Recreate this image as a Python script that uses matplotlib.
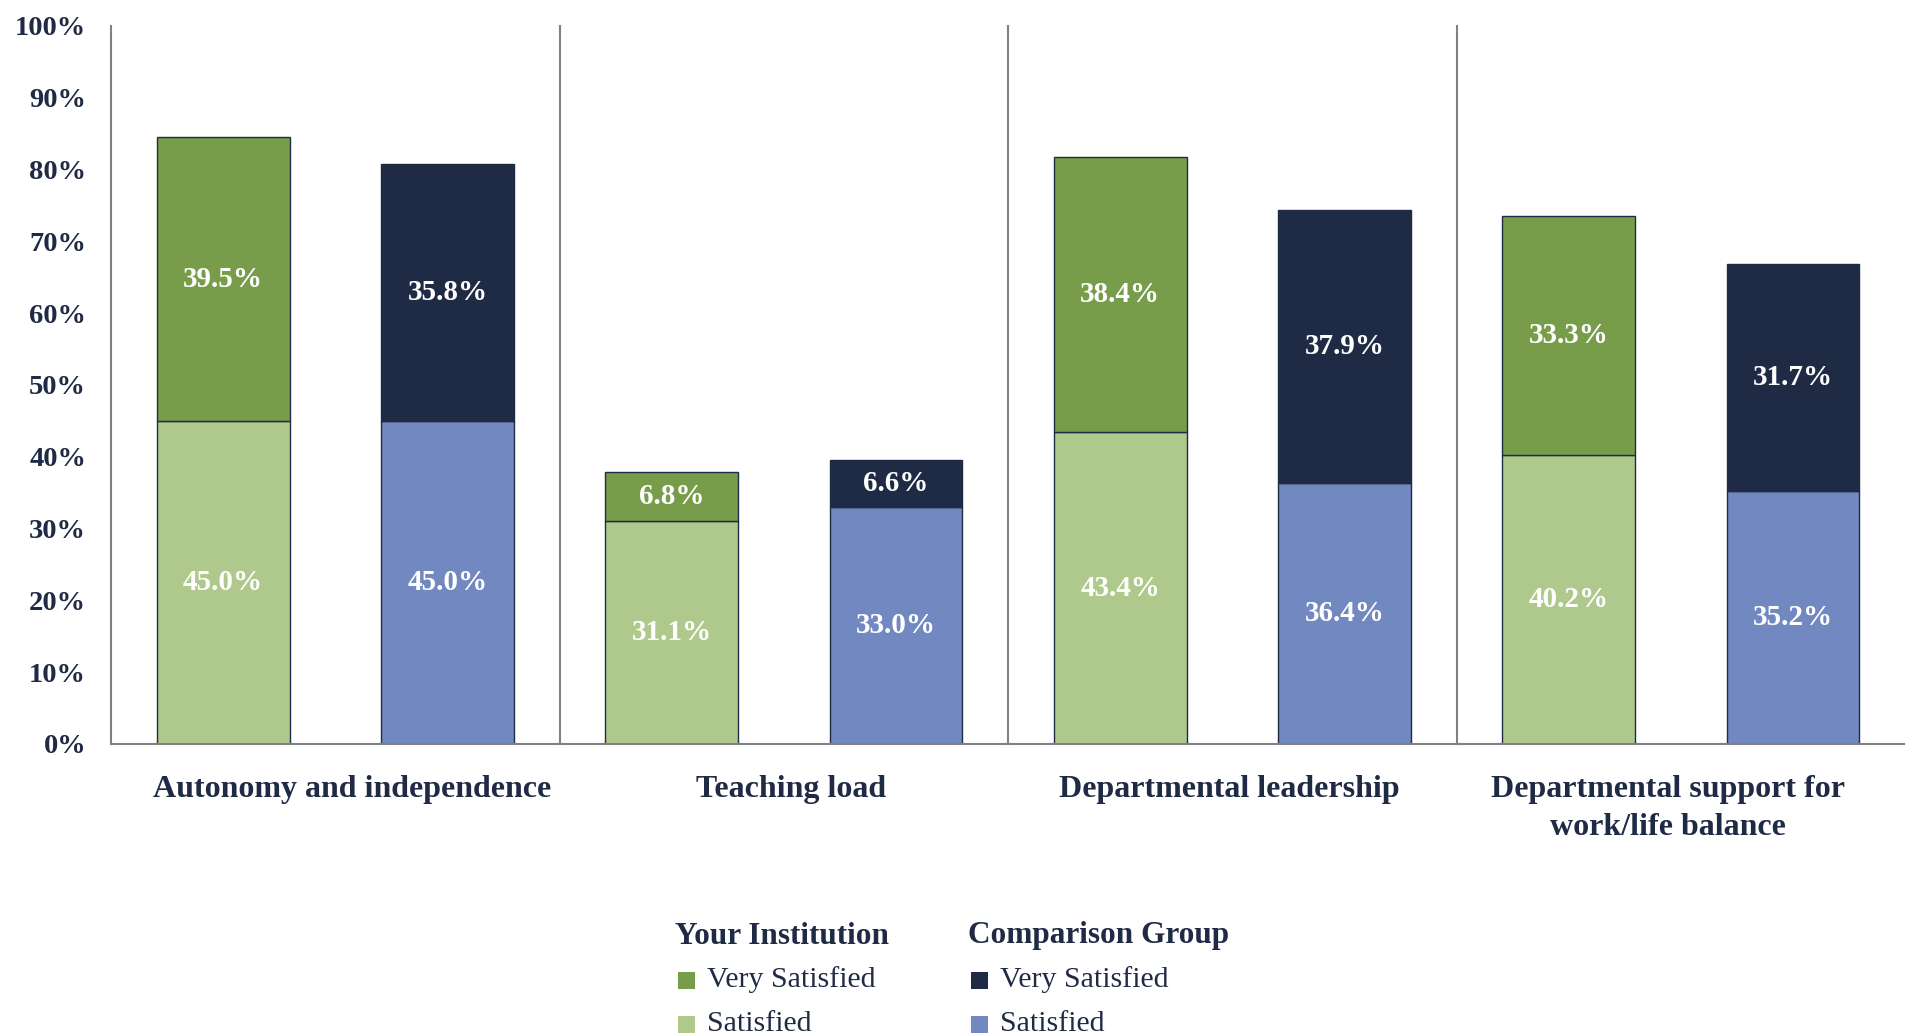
import matplotlib
matplotlib.use("Agg")
import matplotlib.pyplot as plt
from matplotlib.patches import Rectangle
import numpy as np

categories = ["Autonomy and independence", "Teaching load",
              "Departmental leadership", "Departmental support for\nwork/life balance"]
inst_satisfied = [45.0, 31.1, 43.4, 40.2]
inst_very = [39.5, 6.8, 38.4, 33.3]
comp_satisfied = [45.0, 33.0, 36.4, 35.2]
comp_very = [35.8, 6.6, 37.9, 31.7]
yticks = [0, 10, 20, 30, 40, 50, 60, 70, 80, 90, 100]
legend_groups = ["Your Institution", "Comparison Group"]
legend_items = ["Very Satisfied", "Satisfied"]

C_DKGREEN = "#789D4A"
C_LTGREEN = "#AFC98C"
C_NAVY = "#1F2B45"
C_BLUE = "#7188C0"
C_TEXT = "#1F2A44"
C_GRID = "#808080"

plt.rcParams['font.family'] = ['Liberation Serif', 'DejaVu Serif']

fig = plt.figure(figsize=(19.05, 10.36), dpi=100)
ax = fig.add_axes([0.0583, 0.2819, 0.9417, 0.6931])

x = np.arange(len(categories))
w = 0.296
off = 0.25
edge = dict(edgecolor=C_NAVY, linewidth=1.0)
ax.bar(x - off, inst_satisfied, w, color=C_LTGREEN, **edge)
ax.bar(x - off, inst_very, w, bottom=inst_satisfied, color=C_DKGREEN, **edge)
ax.bar(x + off, comp_satisfied, w, color=C_BLUE, **edge)
ax.bar(x + off, comp_very, w, bottom=comp_satisfied, color=C_NAVY, **edge)

lab = dict(ha='center', va='center', color='white', fontsize=21, fontweight='bold')
for i in range(len(categories)):
    ax.text(x[i] - off, inst_satisfied[i] / 2, f"{inst_satisfied[i]:.1f}%", **lab)
    ax.text(x[i] - off, inst_satisfied[i] + inst_very[i] / 2, f"{inst_very[i]:.1f}%", **lab)
    ax.text(x[i] + off, comp_satisfied[i] / 2, f"{comp_satisfied[i]:.1f}%", **lab)
    ax.text(x[i] + off, comp_satisfied[i] + comp_very[i] / 2, f"{comp_very[i]:.1f}%", **lab)

for i in range(len(categories) - 1):
    ax.plot([x[i] + 0.5, x[i] + 0.5], [0, 100], color=C_GRID, linewidth=1.5, clip_on=False)

ax.set_xlim(-0.5, len(categories) - 0.5)
ax.set_ylim(0, 100)
ax.set_yticks(yticks)
ax.set_yticklabels([f"{v}%" for v in yticks])
mid = (len(categories) - 1) / 2
ax.set_xticks(mid + 0.005 + (x - mid) * 0.978)
ax.set_xticklabels(categories)
for s in ['top', 'right']:
    ax.spines[s].set_visible(False)
for s in ['left', 'bottom']:
    ax.spines[s].set_color(C_GRID)
    ax.spines[s].set_linewidth(1.5)
ax.tick_params(axis='y', length=0, pad=18, labelsize=20.5, labelcolor=C_TEXT)
ax.tick_params(axis='x', length=0, pad=22, labelsize=23, labelcolor=C_TEXT)
for t in ax.get_yticklabels() + ax.get_xticklabels():
    t.set_fontweight('bold')
for t in ax.get_xticklabels():
    t.set_linespacing(1.43)
    t.set_va('top')

# manual legend
W, H = fig.get_size_inches() * fig.dpi
group_x = [675, 968]
group_colors = [[C_DKGREEN, C_LTGREEN], [C_NAVY, C_BLUE]]
for g, gx in enumerate(group_x):
    fig.text(gx / W, 1 - 936 / H, legend_groups[g], ha='left', va='center',
             fontsize=22.5, fontweight='bold', color=C_TEXT)
    for k, item in enumerate(legend_items):
        yc = 980 + 44 * k
        sq = 17
        fig.patches.append(Rectangle(((gx + 3) / W, 1 - (yc + sq / 2) / H), sq / W, sq / H,
                                     transform=fig.transFigure, facecolor=group_colors[g][k],
                                     edgecolor='none'))
        fig.text((gx + 32) / W, 1 - yc / H, item, ha='left', va='center',
                 fontsize=21.5, color=C_TEXT)

fig.savefig("out.png", dpi=100)
